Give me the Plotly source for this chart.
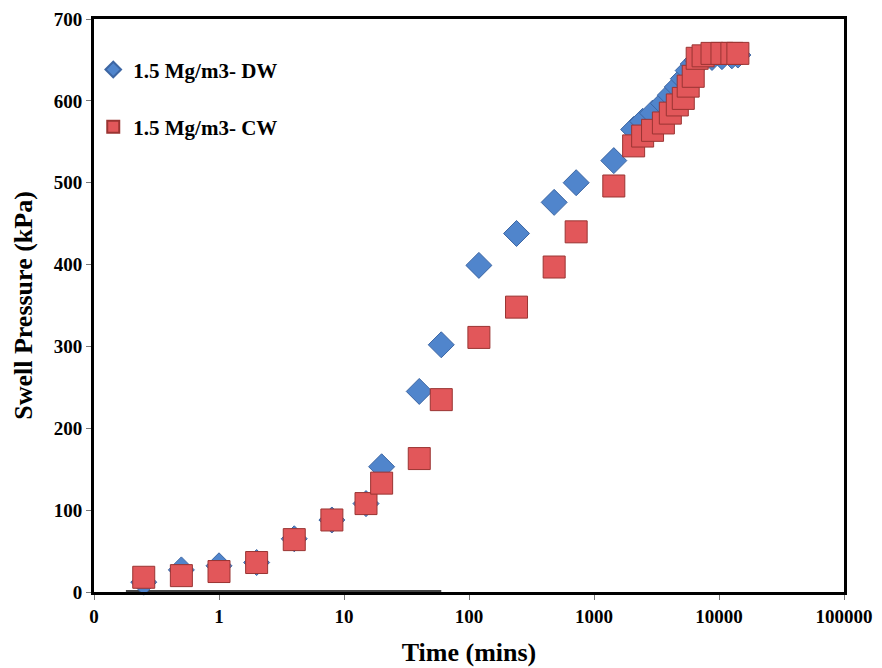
import plotly.graph_objects as go

# Data (time in minutes, swell pressure in kPa)
dw_time = [0.25, 0.5, 1, 2, 4, 8, 15, 20, 40, 60, 120, 240, 480, 720, 1440,
           2075, 2450, 2940, 3590, 4080, 4640, 5180, 5670, 6220, 6690,
           7460, 8790, 10560, 12680, 14160]
dw_pressure = [12, 27, 32, 36, 65, 88, 108, 153, 245, 302, 399, 438, 476, 500, 527,
               565, 575, 585, 597, 607, 617, 627, 637, 645, 650,
               652, 653, 654, 655, 656]

cw_time = [0.25, 0.5, 1, 2, 4, 8, 15, 20, 40, 60, 120, 240, 480, 720, 1440,
           2075, 2450, 2940, 3590, 4080, 4640, 5180, 5670, 6220, 6690,
           7460, 8790, 10560, 12680, 14160]
cw_pressure = [18, 20, 25, 36, 64, 88, 108, 133, 163, 235, 311, 348, 397, 440, 496,
               545, 557, 564, 573, 585, 595, 603, 618, 630, 652,
               655, 658, 658, 658, 658]

# dark baseline segment visible along the x axis
base_time = [0.18, 60]
base_val = [0, 0]

x_tickvals = [0.1, 1, 10, 100, 1000, 10000, 100000]
x_ticktext = ["0", "1", "10", "100", "1000", "10000", "100000"]
y_tickvals = [0, 100, 200, 300, 400, 500, 600, 700]

font_family = "Liberation Serif"

fig = go.Figure()

fig.add_trace(go.Scatter(
    x=base_time, y=base_val, mode="lines",
    line=dict(color="#444444", width=4),
    showlegend=False, hoverinfo="skip", cliponaxis=False,
))

fig.add_trace(go.Scatter(
    x=dw_time, y=dw_pressure, mode="markers",
    name="<b>1.5 Mg/m3- DW</b>",
    legendgroup="dw",
    marker=dict(symbol="diamond", size=20, color="#5085CC",
                line=dict(color="#3D66A3", width=1)),
    cliponaxis=False,
))

fig.add_trace(go.Scatter(
    x=cw_time, y=cw_pressure, mode="markers",
    name="<b>1.5 Mg/m3- CW</b>",
    legendgroup="cw",
    marker=dict(symbol="square", size=22, color="#E2575A",
                line=dict(color="#9A3432", width=1)),
    cliponaxis=False,
))

fig.update_layout(
    width=874, height=660,
    margin=dict(l=86, r=38, t=11, b=76),
    paper_bgcolor="white", plot_bgcolor="white",
    font=dict(family=font_family, size=19, color="black"),
    showlegend=True,
    legend=dict(
        x=-0.001, y=0.947, xanchor="left", yanchor="top",
        bgcolor="rgba(0,0,0,0)", borderwidth=0,
        font=dict(family=font_family, size=21, color="black"),
        itemsizing="constant", tracegroupgap=27,
        itemwidth=30,
    ),
    xaxis=dict(
        type="log", range=[-1, 5], automargin=False,
        tickvals=x_tickvals, ticktext=x_ticktext,
        tickfont=dict(family=font_family, size=19, color="black", weight="bold"),
        ticklabeloverflow="allow",
        showgrid=False, zeroline=False,
        showline=True, linecolor="black", linewidth=3, mirror=True,
        ticks="outside", ticklen=5, tickcolor="#777777", tickwidth=1,
        title=dict(text="<b>Time (mins)</b>",
                   font=dict(family=font_family, size=26, color="black"),
                   standoff=18),
    ),
    yaxis=dict(
        range=[0, 700], automargin=False,
        tickvals=y_tickvals,
        tickfont=dict(family=font_family, size=19, color="black", weight="bold"),
        ticklabeloverflow="allow",
        showgrid=False, zeroline=False,
        showline=True, linecolor="black", linewidth=3, mirror=True,
        ticks="outside", ticklen=5, tickcolor="#777777", tickwidth=1,
        title=dict(text="<b>Swell Pressure (kPa)</b>",
                   font=dict(family=font_family, size=26, color="black"),
                   standoff=14),
    ),
)

fig.write_html("out.html")
